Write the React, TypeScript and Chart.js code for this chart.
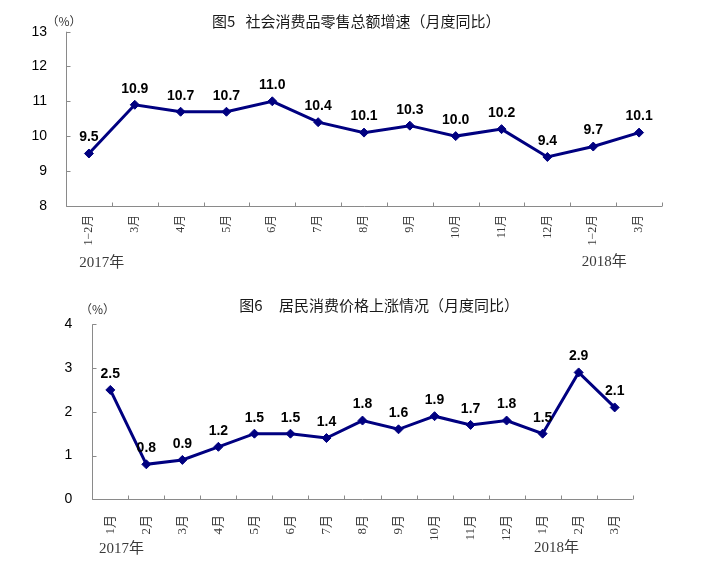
import React, { useEffect, useRef } from "react";
import { Chart, registerables } from "chart.js";

Chart.register(...registerables);

// ---------- data ----------
const retailCategories = ["1−2月", "3月", "4月", "5月", "6月", "7月", "8月", "9月", "10月", "11月", "12月", "1−2月", "3月"];
const retailValues = [9.5, 10.9, 10.7, 10.7, 11.0, 10.4, 10.1, 10.3, 10.0, 10.2, 9.4, 9.7, 10.1];
const retailTicks = [8, 9, 10, 11, 12, 13];

const cpiCategories = ["1月", "2月", "3月", "4月", "5月", "6月", "7月", "8月", "9月", "10月", "11月", "12月", "1月", "2月", "3月"];
const cpiValues = [2.5, 0.8, 0.9, 1.2, 1.5, 1.5, 1.4, 1.8, 1.6, 1.9, 1.7, 1.8, 1.5, 2.9, 2.1];
const cpiTicks = [0, 1, 2, 3, 4];

const LINE_COLOR = "#000080";
const AXIS_COLOR = "#8a8a8a";
const CANVAS_W = 702;
const CANVAS_H = 286;

type TextItem = { text: string; x: number; y: number };

type ChartSpec = {
  categories: string[];
  values: number[];
  ticks: number[];
  titleParts: TextItem[];
  percent: TextItem;
  years: TextItem[];
  padding: { left: number; right: number; top: number };
  xAxisHeight: number;
  labelGap: number;
  labelFontSize: number;
  yLabelPadding: number;
};

function makeOverlay(spec: ChartSpec) {
  return {
    id: "overlay",
    beforeDatasetsDraw(chart: any) {
      const { ctx, chartArea } = chart;
      const x = chart.scales.x;
      const y = chart.scales.y;
      ctx.save();
      ctx.strokeStyle = AXIS_COLOR;
      ctx.lineWidth = 1;
      ctx.beginPath();
      const left = Math.round(chartArea.left) + 0.5;
      const bottom = Math.round(chartArea.bottom) + 0.5;
      ctx.moveTo(left, chartArea.top);
      ctx.lineTo(left, bottom);
      ctx.lineTo(chartArea.right, bottom);
      // y ticks (inside)
      spec.ticks.forEach((v) => {
        const py = Math.round(y.getPixelForValue(v)) + 0.5;
        ctx.moveTo(left, py);
        ctx.lineTo(left + 4, py);
      });
      // x ticks at category boundaries (inside)
      const n = spec.categories.length;
      const half = (x.getPixelForValue(1) - x.getPixelForValue(0)) / 2;
      for (let i = 0; i <= n; i++) {
        const px = Math.round(i < n ? x.getPixelForValue(i) - half : x.getPixelForValue(n - 1) + half) + 0.5;
        ctx.moveTo(px, bottom);
        ctx.lineTo(px, bottom - 4);
      }
      ctx.stroke();

      // x labels rotated
      ctx.fillStyle = "#3a3a3a";
      ctx.font = `${spec.labelFontSize}px "Liberation Serif", "Noto Sans CJK SC", serif`;
      ctx.textAlign = "right";
      ctx.textBaseline = "middle";
      spec.categories.forEach((lab, i) => {
        const px = x.getPixelForValue(i);
        ctx.save();
        ctx.translate(px, chartArea.bottom + spec.labelGap);
        ctx.rotate(-Math.PI / 2);
        ctx.fillText(lab, 0, 0);
        ctx.restore();
      });

      // title
      ctx.fillStyle = "#1a1a1a";
      ctx.textAlign = "left";
      ctx.font = `15px "Noto Sans CJK SC", sans-serif`;
      spec.titleParts.forEach((t) => ctx.fillText(t.text, t.x, t.y));

      // (%)
      ctx.textAlign = "center";
      ctx.font = `12px "Noto Sans CJK SC", sans-serif`;
      ctx.fillStyle = "#333";
      ctx.fillText(spec.percent.text, spec.percent.x, spec.percent.y);

      // years
      ctx.textAlign = "left";
      ctx.fillStyle = "#3a3a3a";
      ctx.font = `15px "Liberation Serif", "Noto Sans CJK SC", serif`;
      spec.years.forEach((t) => ctx.fillText(t.text, t.x, t.y));
      ctx.restore();
    },
    afterDatasetsDraw(chart: any) {
      const { ctx } = chart;
      const meta = chart.getDatasetMeta(0);
      ctx.save();
      ctx.fillStyle = "#000";
      ctx.font = `bold 14px "Liberation Sans", Arial, sans-serif`;
      ctx.textAlign = "center";
      ctx.textBaseline = "middle";
      meta.data.forEach((p: any, i: number) => {
        ctx.fillText(spec.values[i].toFixed(1), p.x, p.y - 16);
      });
      ctx.restore();
    },
  };
}

function LineChart({ spec, top }: { spec: ChartSpec; top: number }) {
  const ref = useRef<HTMLCanvasElement | null>(null);
  useEffect(() => {
    if (!ref.current) return;
    const chart = new Chart(ref.current, {
      type: "line",
      data: {
        labels: spec.categories,
        datasets: [
          {
            data: spec.values,
            borderColor: LINE_COLOR,
            backgroundColor: LINE_COLOR,
            borderWidth: 3,
            pointStyle: "rectRot",
            pointRadius: 4.5,
            pointBorderWidth: 1,
            pointBackgroundColor: LINE_COLOR,
            pointBorderColor: LINE_COLOR,
            tension: 0,
          },
        ],
      },
      options: {
        responsive: false,
        animation: false,
        devicePixelRatio: 1,
        layout: { padding: { left: spec.padding.left, right: spec.padding.right, top: spec.padding.top, bottom: 0 } },
        plugins: { legend: { display: false }, tooltip: { enabled: false }, title: { display: false } },
        scales: {
          x: {
            type: "category",
            offset: true,
            grid: { display: false, drawTicks: false },
            border: { display: false },
            ticks: { display: false },
            afterFit: (s: any) => {
              s.height = spec.xAxisHeight;
            },
          },
          y: {
            min: spec.ticks[0],
            max: spec.ticks[spec.ticks.length - 1],
            grid: { display: false, drawTicks: false },
            border: { display: false },
            ticks: {
              stepSize: 1,
              padding: spec.yLabelPadding,
              color: "#000",
              font: { family: '"Liberation Sans", Arial, sans-serif', size: 14 },
            },
            afterFit: (s: any) => {
              s.width = 60;
            },
          },
        },
      },
      plugins: [makeOverlay(spec)],
    } as any);
    return () => chart.destroy();
  }, [spec]);
  return (
    <canvas
      ref={ref}
      width={CANVAS_W}
      height={CANVAS_H}
      style={{ position: "absolute", left: 0, top, width: CANVAS_W, height: CANVAS_H, display: "block" }}
    />
  );
}

const retailSpec: ChartSpec = {
  categories: retailCategories,
  values: retailValues,
  ticks: retailTicks,
  titleParts: [
    { text: "图5", x: 212, y: 21.7 },
    { text: "社会消费品零售总额增速（月度同比）", x: 245.5, y: 21.7 },
  ],
  percent: { text: "（%）", x: 64, y: 21.7 },
  years: [
    { text: "2017年", x: 79.3, y: 263.3 },
    { text: "2018年", x: 581.7, y: 261.7 },
  ],
  padding: { left: 6, right: 40, top: 31.7 },
  xAxisHeight: CANVAS_H - 205.7,
  labelGap: 9,
  labelFontSize: 12,
  yLabelPadding: 19,
};

const cpiSpec: ChartSpec = {
  categories: cpiCategories,
  values: cpiValues,
  ticks: cpiTicks,
  titleParts: [
    { text: "图6", x: 239.3, y: 19.7 },
    { text: "居民消费价格上涨情况（月度同比）", x: 279, y: 19.7 },
  ],
  percent: { text: "（%）", x: 97.5, y: 23 },
  years: [
    { text: "2017年", x: 99, y: 263 },
    { text: "2018年", x: 534, y: 262 },
  ],
  padding: { left: 32.3, right: 69.3, top: 38.3 },
  xAxisHeight: CANVAS_H - 213.3,
  labelGap: 15.7,
  labelFontSize: 13,
  yLabelPadding: 20,
};

export default function App() {
  return (
    <div style={{ position: "absolute", left: 0, top: 0, width: 702, height: 572, background: "#fff" }}>
      <LineChart spec={retailSpec} top={0} />
      <LineChart spec={cpiSpec} top={286} />
    </div>
  );
}
